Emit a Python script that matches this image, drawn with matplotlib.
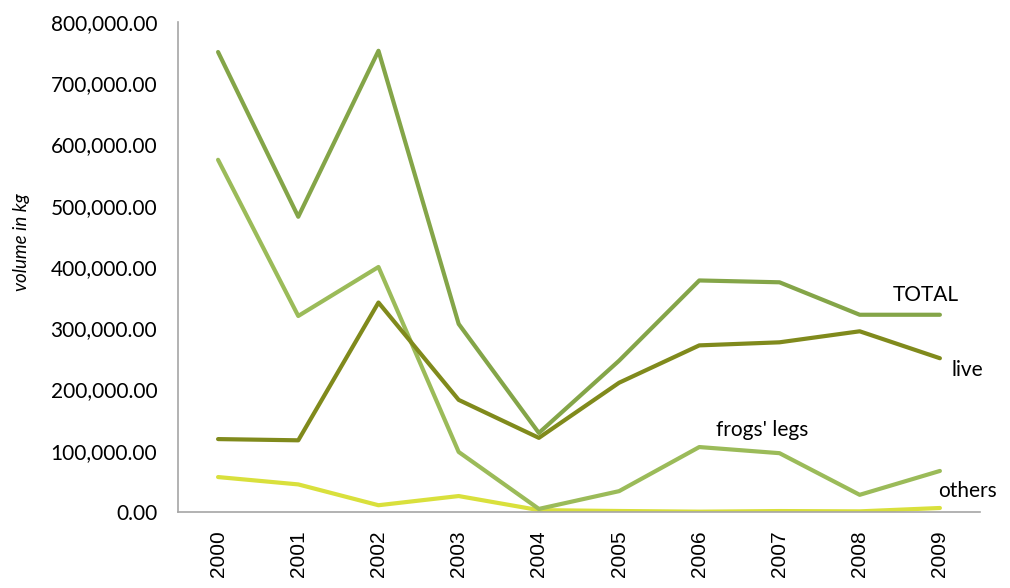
import numpy as np
import matplotlib.pyplot as plt
from matplotlib.ticker import FuncFormatter

# ================================ Data ================================ #

years = ["2000", "2001", "2002", "2003", "2004", "2005", "2006", "2007", "2008", "2009"]
total = [751000, 482000, 753000, 307000, 129000, 247000, 378000, 375000, 322000, 322000]
frogs_legs = [575000, 320000, 400000, 98000, 5000, 34000, 106000, 96000, 28000, 67000]
live = [119000, 117000, 342000, 183000, 121000, 211000, 272000, 277000, 295000, 251000]
others = [57000, 45000, 11000, 26000, 3000, 1600, 500, 1500, 1000, 6500]

# ================================ Plot ================================ #

fig = plt.figure(figsize=(10.1, 5.88), dpi=100)
ax = fig.add_axes([0.1762, 0.1293, 0.7941, 0.8333])

x = np.arange(len(years))
ax.plot(x, others, color="#d9e03c", lw=3, solid_capstyle="round")
ax.plot(x, frogs_legs, color="#9bbb59", lw=3, solid_capstyle="round")
ax.plot(x, live, color="#808a1c", lw=3, solid_capstyle="round")
ax.plot(x, total, color="#84a548", lw=3, solid_capstyle="round")

ax.set_xlim(-0.5, 9.5)
ax.set_ylim(0, 800000)
ax.set_yticks(np.arange(0, 800001, 100000))
ax.yaxis.set_major_formatter(FuncFormatter(lambda v, p: f"{v:,.2f}"))
ax.set_xticks(x)
ax.set_xticklabels(years, rotation=90, fontsize=15, family="Liberation Sans")
for t in ax.get_yticklabels():
    t.set_family("Lato")
    t.set_fontsize(15)
ax.tick_params(length=0)
ax.tick_params(axis="y", pad=15)
ax.tick_params(axis="x", pad=13)

for s in ["top", "right"]:
    ax.spines[s].set_visible(False)
for s in ["left", "bottom"]:
    ax.spines[s].set_color("#a6a6a6")
    ax.spines[s].set_linewidth(1.2)

ax.set_ylabel("volume in kg", family="Lato", style="italic", fontsize=13.5)
ax.yaxis.set_label_coords(-0.184, 0.55)

ax.text(8.83, 354000, "TOTAL", family="Lato", fontsize=15, ha="center", va="center")
ax.text(9.15, 232000, "live", family="Lato", fontsize=15, ha="left", va="center")
ax.text(6.21, 134000, "frogs' legs", family="Lato", fontsize=15, ha="left", va="center")
ax.text(8.98, 34000, "others", family="Lato", fontsize=15, ha="left", va="center")

fig.savefig("out.png", dpi=100)
